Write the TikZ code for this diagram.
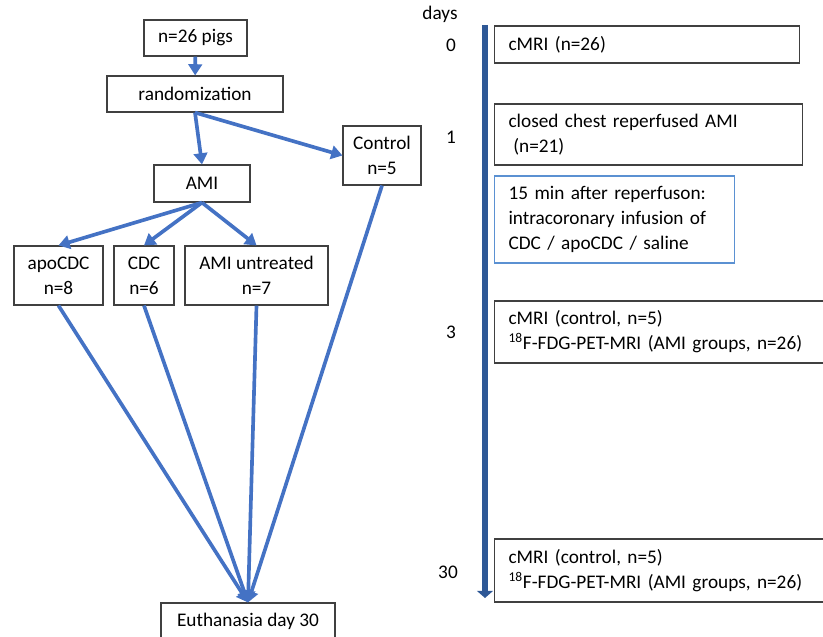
\documentclass[tikz,border=0pt]{standalone}
\usepackage{fontspec}
\setmainfont{Carlito}
\usetikzlibrary{arrows.meta}

\definecolor{flowblue}{RGB}{68,114,196}
\definecolor{timeblue}{RGB}{46,88,150}
\definecolor{infblue}{RGB}{91,145,210}
\definecolor{boxgray}{RGB}{64,64,64}

\begin{document}
\begin{tikzpicture}[
    x=0.025cm, y=-0.025cm,
    font=\fontsize{13.7}{17.8}\selectfont,
    box/.style={
        draw=boxgray,
        line width=0.8pt,
        align=center,
        inner sep=0pt
    },
    tbox/.style={
        draw=boxgray,
        line width=0.8pt,
        align=left,
        anchor=west,
        inner xsep=0.35cm,
        inner ysep=0pt
    },
    arrow/.style={
        -{Triangle[length=2.8mm,width=3.4mm]},
        line width=2.6pt,
        draw=flowblue
    },
    timeline/.style={
        -{Triangle[length=1.8mm,width=4mm]},
        line width=4.5pt,
        draw=timeblue
    },
    day/.style={inner sep=0pt}
]
\useasboundingbox (0,0) rectangle (823,637);
\clip (0,0) rectangle (823,637);

% Groupes
\node[box, minimum width=2.575cm, minimum height=0.9cm] (pigs) at (195.5,38) {n=26 pigs};
\node[box, minimum width=4.4cm, minimum height=0.9cm] (rand) at (195,94) {randomization};
\node[box, minimum width=1.95cm, minimum height=1.475cm] (ctrl) at (382,155.5) {Control\\n=5};
\node[box, minimum width=2.4cm, minimum height=0.925cm] (ami) at (202,183.5) {AMI};
\node[box, minimum width=2.225cm, minimum height=1.475cm] (apo) at (58.5,275.5) {apoCDC\\n=8};
\node[box, minimum width=1.5cm, minimum height=1.475cm] (cdc) at (144,275.5) {CDC\\n=6};
\node[box, minimum width=3.575cm, minimum height=1.475cm] (untr) at (256.5,275.5) {AMI untreated\\n=7};
\node[box, minimum width=4.35cm, minimum height=0.9cm] (euth) at (248,621) {Euthanasia day 30};

% Flèches
\draw[arrow] (pigs) -- (rand);
\draw[arrow] (rand.south) -- (ami.north);
\draw[arrow] (rand.south) -- (ctrl.west);
\draw[arrow] (ami.south) -- (apo.north);
\draw[arrow] (ami.south) -- (cdc.north);
\draw[arrow] (ami.south) -- (untr.north);
\draw[arrow] (apo.south) -- (euth.north);
\draw[arrow] (cdc.south) -- (euth.north);
\draw[arrow] (untr.south) -- (euth.north);
\draw[arrow] (ctrl.south) -- (euth.north);

% Zeitachse
\coordinate (tltop) at (485,25);
\coordinate (tlend) at (485,598);
\draw[timeline] (tltop) -- (tlend);

\node[day] (days) at (440,14) {days};
\node[day] (d0lab) at (451,45) {0};
\node[day] (d1lab) at (451,137) {1};
\node[day] (d3lab) at (451,332) {3};
\node[day] (d30lab) at (448,572) {30};

% Ereignisse
\node[tbox, text width=6.925cm, minimum height=0.925cm] (d0) at (494,44.5) {cMRI (n=26)};
\node[tbox, text width=7cm, minimum height=1.525cm] (d1) at (494,134.5) {closed chest reperfused AMI\\\hspace*{0.25em}(n=21)};
\node[tbox, draw=infblue, text width=5.3cm, minimum height=2.175cm] (inf) at (494,219.5) {15 min after reperfuson:\\intracoronary infusion of\\CDC / apoCDC / saline};
\node[tbox, text width=7.7cm, minimum height=1.55cm] (d3) at (494,332) {cMRI (control, n=5)\\\textsuperscript{18}F-FDG-PET-MRI (AMI groups, n=26)};
\node[tbox, text width=7.7cm, minimum height=1.575cm] (d30) at (494,570.5) {cMRI (control, n=5)\\\textsuperscript{18}F-FDG-PET-MRI (AMI groups, n=26)};

\end{tikzpicture}
\end{document}
